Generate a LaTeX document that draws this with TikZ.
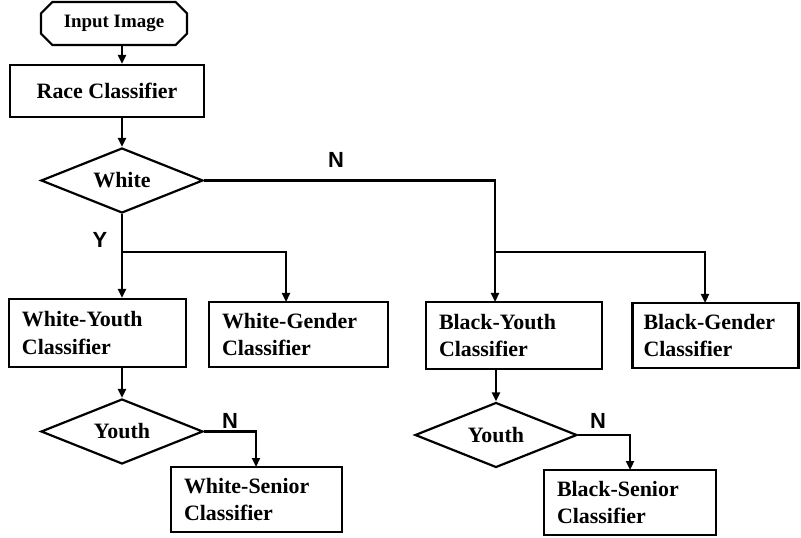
\documentclass[tikz,border=0pt]{standalone}
\usepackage{fontspec}
\setmainfont{Liberation Serif}
\newfontfamily\labfont{Liberation Sans}
\usetikzlibrary{shapes.geometric,shapes.misc,arrows.meta}
\begin{document}
\begin{tikzpicture}[x=1bp,y=-1bp,line width=2.2bp,
  arr/.style={-{Triangle[length=9bp,width=8bp]}},
  box/.style={draw,rectangle,inner xsep=13bp,inner ysep=0bp,
    font=\fontsize{22}{28}\selectfont\bfseries,align=left},
  dec/.style={draw,diamond,aspect=2.5,inner sep=0bp,
    minimum width=162bp,minimum height=65bp,font=\fontsize{22}{26}\selectfont\bfseries},
  lab/.style={font=\fontsize{22}{26}\labfont\bfseries}]
\useasboundingbox (0,0) rectangle (801,538);
% nodes
\node[draw,chamfered rectangle,chamfered rectangle xsep=12bp,
  minimum width=146bp,minimum height=43bp,inner sep=0bp,
  font=\fontsize{19}{22}\selectfont\bfseries] (in) at (114,23.5) {Input Image};
\node[draw,rectangle,minimum width=194bp,minimum height=52bp,
  inner sep=0bp,font=\fontsize{22}{26}\selectfont\bfseries] (race) at (107,91) {Race Classifier};
\node[dec] (wd) at (122,180.5) {White};
\node[box,text width=151bp,minimum height=68bp] (wy) at (97.5,333) {White-Youth\\Classifier};
\node[box,text width=153bp,minimum height=65bp] (wg) at (298.5,334.5) {White-Gender\\Classifier};
\node[box,text width=150bp,minimum height=67bp] (by) at (514,335.5) {Black-Youth\\Classifier};
\node[box,text width=144bp,minimum height=65bp,inner xsep=11bp] (bg) at (715.5,335.5) {Black-Gender\\Classifier};
\node[dec] (wyd) at (122,431.5) {Youth};
\node[dec] (bd) at (496,435) {Youth};
\node[box,text width=145bp,minimum height=65bp] (ws) at (256.5,499.5) {White-Senior\\Classifier};
\node[box,text width=146bp,minimum height=65bp] (bs) at (630,502.5) {Black-Senior\\Classifier};
% coordinates
\coordinate (j1) at (122,252);
\coordinate (wgin) at (286,302);
\coordinate (byin) at (495,302);
\coordinate (j2) at (495,252);
\coordinate (bgin) at (705,303);
\coordinate (wsin) at (256,467);
\coordinate (bsin) at (630,470);
% connectors
\draw[arr] (wd.north |- in.south) -- (wd.north |- race.north);
\draw[arr] (wd.north |- race.south) -- (wd.north);
\draw[arr] (wd.south) -- (wd.south |- wy.north);
\draw[arr] (j1) -| (wgin);
\draw[arr] (wd.east) -| (byin);
\draw[arr] (j2) -| (bgin);
\draw[arr] (wyd.north |- wy.south) -- (wyd.north);
\draw[arr] (wyd.east) -| (wsin);
\draw[arr] (bd.north |- by.south) -- (bd.north);
\draw[arr] (bd.east) -| (bsin);
% labels
\node[lab] (ln1) at (336,160) {N};
\node[lab] (ly) at (100,240) {Y};
\node[lab] (ln2) at (230,421) {N};
\node[lab] (ln3) at (598,421) {N};
\end{tikzpicture}
\end{document}
